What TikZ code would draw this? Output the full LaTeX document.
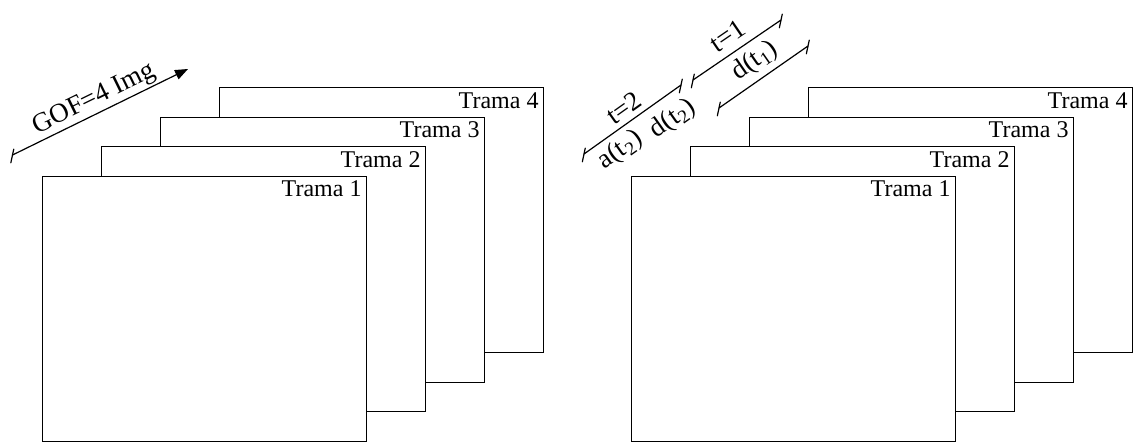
\documentclass[tikz,border=0pt]{standalone}
\usepackage{fontspec}
\setmainfont{Liberation Serif}
\usetikzlibrary{arrows.meta}
% short slanted bar closing a dimension line
\newcommand\dimtick[1]{\draw[dim] (#1) ++(102:8) -- ++(-78:14);}
\begin{document}
\begin{tikzpicture}[x=0.5pt,y=-0.5pt,
  frame/.style={draw=black, fill=white, line width=0.6pt, minimum width=162pt,
    minimum height=132.5pt, inner sep=0pt, anchor=north west},
  lbl/.style={anchor=north east, inner sep=2.5pt, font=\fontsize{12}{14}\selectfont},
  dim/.style={line width=0.6pt, line cap=round},
  tag/.style={font=\fontsize{13.5}{15}\selectfont, sloped}]
\useasboundingbox (0,0) rectangle (1138,444);

% two stacks of four frames, back to front
\foreach \ox/\s in {0/L, 589/R} {
  \foreach \k in {4,3,2,1} {
    \node[frame] (\s\k) at ({41.7+\ox+59*(\k-1)}, {175.7-29.5*(\k-1)}) {};
    \node[lbl] (\s\k t) at (\s\k.north east) {Trama \k};
  }
}

% group of pictures
\coordinate (g0) at (12.5,155);
\coordinate (g1) at (188,69);
\draw[dim, -{Triangle[length=6.5pt,width=5pt]}] (g0) --
  node[tag, anchor=south, inner sep=0.8pt] (gof) {GOF=4 Img} (g1);
\dimtick{g0}

% time intervals
\coordinate (a0) at (584,154);
\coordinate (a1) at (681,85);
\coordinate (b0) at (693,80);
\coordinate (b1) at (781,20);
\coordinate (c0) at (719,108);
\coordinate (c1) at (808,46);

\draw[dim] (a0) --
  node[tag, pos=0.5, anchor=south, inner sep=2.4pt] (t2) {t=2}
  node[tag, pos=0.27, anchor=north, inner sep=2.6pt] (at2) {a(t\textsubscript{2})}
  node[tag, pos=0.78, anchor=north, inner sep=5.2pt] (dt2) {d(t\textsubscript{2})} (a1);
\draw[dim] (b0) --
  node[tag, pos=0.5, anchor=south, inner sep=3.8pt] (t1) {t=1} (b1);
\draw[dim] (c0) --
  node[tag, pos=0.52, anchor=south, inner sep=2.5pt] (dt1) {d(t\textsubscript{1})} (c1);
\dimtick{a0}\dimtick{a1}
\dimtick{b0}\dimtick{b1}
\dimtick{c0}\dimtick{c1}
\end{tikzpicture}
\end{document}
